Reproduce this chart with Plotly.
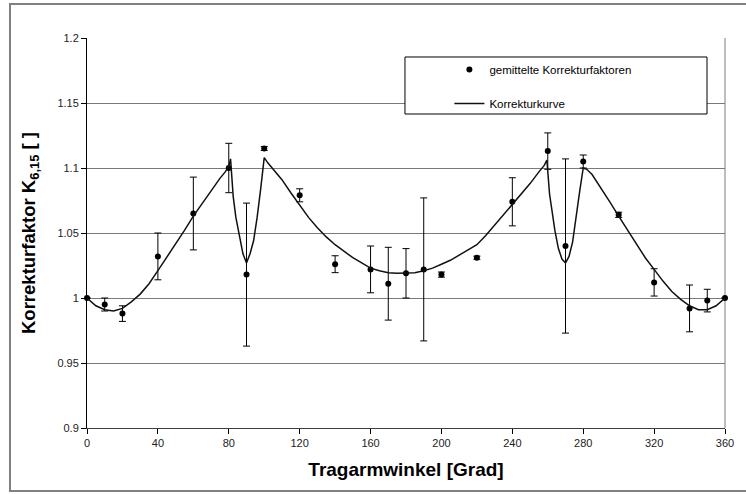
import plotly.graph_objects as go

# Measured mean correction factors per support-arm angle, with their spread
winkel = [0, 10, 20, 40, 60, 80, 90, 100, 120, 140, 160, 170, 180, 190, 200,
          220, 240, 260, 270, 280, 300, 320, 340, 350, 360]
faktor = [1.000, 0.995, 0.988, 1.032, 1.065, 1.100, 1.018, 1.115, 1.079, 1.026,
          1.022, 1.011, 1.019, 1.022, 1.018, 1.031, 1.074, 1.113, 1.040, 1.105,
          1.064, 1.012, 0.992, 0.998, 1.000]
fehler = [0.0, 0.005, 0.006, 0.018, 0.028, 0.019, 0.055, 0.0015, 0.005, 0.0065,
          0.018, 0.028, 0.019, 0.055, 0.002, 0.0012, 0.0185, 0.014, 0.067, 0.005,
          0.002, 0.0105, 0.018, 0.0087, 0.0]

# Fitted correction curve
kurve_winkel = [0, 5, 10, 15, 20, 25, 30, 35, 40, 45, 50, 55, 60, 65, 70, 75, 78,
                80, 81, 82.5, 84, 86, 88, 90, 92, 94, 96, 98, 100, 102, 105, 110,
                115, 120, 125, 130, 135, 140, 145, 150, 155, 160, 165, 170, 175,
                180, 185, 190, 195, 200, 205, 210, 215, 220, 225, 230, 235, 240,
                245, 250, 255, 258, 259.5, 261, 262.5, 264, 266, 268, 270, 272,
                274, 276, 278, 280, 282, 285, 290, 295, 300, 305, 310, 315, 320,
                325, 330, 335, 340, 345, 350, 355, 360]
kurve_wert = [1.000, 0.994, 0.991, 0.990, 0.992, 0.997, 1.003, 1.011, 1.021, 1.031,
              1.041, 1.052, 1.063, 1.073, 1.083, 1.092, 1.097, 1.101, 1.107, 1.078,
              1.062, 1.047, 1.034, 1.027, 1.034, 1.044, 1.062, 1.084, 1.108, 1.104,
              1.099, 1.091, 1.081, 1.071, 1.062, 1.054, 1.047, 1.041, 1.036, 1.031,
              1.027, 1.023, 1.021, 1.0195, 1.019, 1.019, 1.0195, 1.021, 1.023, 1.026,
              1.029, 1.033, 1.037, 1.041, 1.048, 1.056, 1.064, 1.072, 1.080, 1.088,
              1.097, 1.102, 1.106, 1.080, 1.066, 1.052, 1.038, 1.030, 1.027, 1.032,
              1.043, 1.064, 1.082, 1.100, 1.099, 1.095, 1.085, 1.074, 1.063, 1.052,
              1.041, 1.031, 1.022, 1.013, 1.005, 0.999, 0.994, 0.991, 0.991, 0.994,
              1.000]

x_ticks = [0, 40, 80, 120, 160, 200, 240, 280, 320, 360]
y_ticks = [0.9, 0.95, 1.0, 1.05, 1.1, 1.15, 1.2]
y_ticktext = ["0.9", "0.95", "1", "1.05", "1.1", "1.15", "1.2"]

FONT = "Arial, Liberation Sans, sans-serif"

fig = go.Figure()

fig.add_trace(go.Scatter(
    x=winkel, y=faktor, mode="markers",
    name="gemittelte Korrekturfaktoren",
    legendgroup="a",
    marker=dict(color="black", size=6, symbol="circle"),
    error_y=dict(type="data", array=fehler, visible=True,
                 color="black", thickness=1, width=3.5),
    cliponaxis=False,
))

fig.add_trace(go.Scatter(
    x=kurve_winkel, y=kurve_wert, mode="lines",
    name="Korrekturkurve",
    legendgroup="b",
    line=dict(color="#111111", width=1.5),
))

shapes = [
    # outer chart frame
    dict(type="rect", xref="paper", yref="paper",
         x0=-0.1207, x1=1.2, y0=-0.1615, y1=1.0872,
         line=dict(color="#808080", width=2), fillcolor="rgba(0,0,0,0)",
         layer="below"),
    # right border of the plot area
    dict(type="line", xref="paper", yref="paper", x0=1, x1=1, y0=0, y1=1,
         line=dict(color="#a8a8a8", width=1.5), layer="below"),
    # legend box
    dict(type="rect", xref="paper", yref="paper",
         x0=0.4984, x1=0.9718, y0=0.8051, y1=0.9513,
         line=dict(color="black", width=1), fillcolor="white", layer="above"),
]

fig.update_layout(
    width=746, height=494,
    margin=dict(l=87, r=21, t=38, b=66),
    paper_bgcolor="white", plot_bgcolor="white",
    font=dict(family=FONT, color="black", size=11),
    showlegend=True,
    legend=dict(
        x=0.568, y=0.9564, xanchor="left", yanchor="top",
        bgcolor="rgba(0,0,0,0)", borderwidth=0,
        font=dict(family=FONT, size=11.5, color="black"),
        traceorder="grouped", tracegroupgap=15,
    ),
    shapes=shapes,
)

fig.update_xaxes(
    range=[0, 360], tickvals=x_ticks, ticks="outside", ticklen=5,
    tickcolor="black", showgrid=False, zeroline=False,
    showline=True, linecolor="#404040", linewidth=1,
    tickfont=dict(family=FONT, size=11, color="#222222"),
    title=dict(text="<b>Tragarmwinkel [Grad]</b>",
               font=dict(family=FONT, size=19, color="black"), standoff=14),
)

fig.update_yaxes(
    range=[0.9, 1.2], tickvals=y_ticks, ticktext=y_ticktext,
    ticks="outside", ticklen=5, tickcolor="black",
    showgrid=True, gridcolor="#7a7a7a", gridwidth=1, zeroline=False,
    showline=True, linecolor="black", linewidth=1,
    tickfont=dict(family=FONT, size=11, color="#222222"),
    title=dict(text="<b>Korrekturfaktor K<sub>6,15</sub> [ ]</b>",
               font=dict(family=FONT, size=18.5, color="black"), standoff=16),
)

fig.write_html("out.html")
